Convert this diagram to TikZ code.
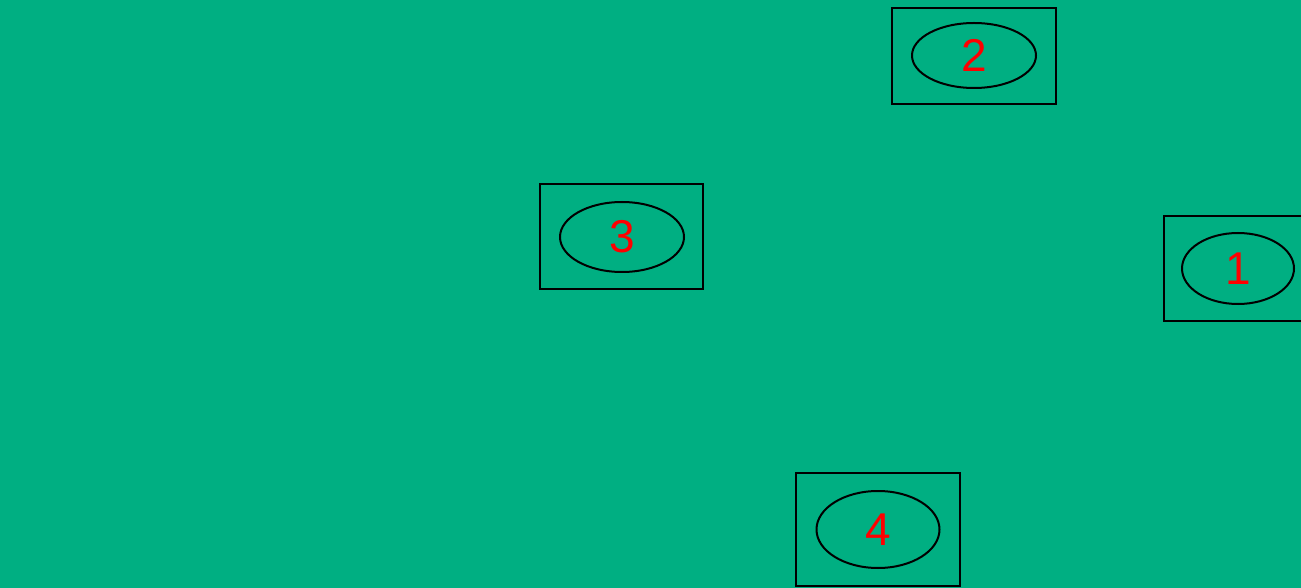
\documentclass[tikz,border=0pt]{standalone}
\usepackage{fontspec}
\setmainfont{Liberation Sans}
\usetikzlibrary{shapes.geometric}
\definecolor{bg}{RGB}{0,175,130}
\begin{document}
\begin{tikzpicture}[x=0.5pt,y=-0.5pt,
  box/.style={draw=black,line width=1pt,rectangle,inner sep=0pt},
  oval/.style={draw=black,line width=1pt,ellipse,inner sep=0pt,text=red,font=\fontsize{23}{23}\selectfont}]
\fill[bg] (0,0) rectangle (1301,588);
\useasboundingbox (0,0) rectangle (1301,588);
\clip (0,0) rectangle (1301,588);
% box 2
\node[box,minimum width=82pt,minimum height=48pt] (b2) at (974,56) {};
\node[oval,minimum width=62pt,minimum height=32.5pt] (e2) at (974,55.5) {2};
% box 3
\node[box,minimum width=81.5pt,minimum height=52.5pt] (b3) at (621.5,236.5) {};
\node[oval,minimum width=62pt,minimum height=35pt] (e3) at (622,237) {3};
% box 1
\node[box,minimum width=81.5pt,minimum height=52.5pt] (b1) at (1245.5,268.5) {};
\node[oval,minimum width=56pt,minimum height=35.5pt] (e1) at (1238,268.5) {1};
% box 4
\node[box,minimum width=82pt,minimum height=56.5pt] (b4) at (878,529.5) {};
\node[oval,minimum width=61.5pt,minimum height=38.5pt] (e4) at (878,529.5) {4};
\end{tikzpicture}
\end{document}
